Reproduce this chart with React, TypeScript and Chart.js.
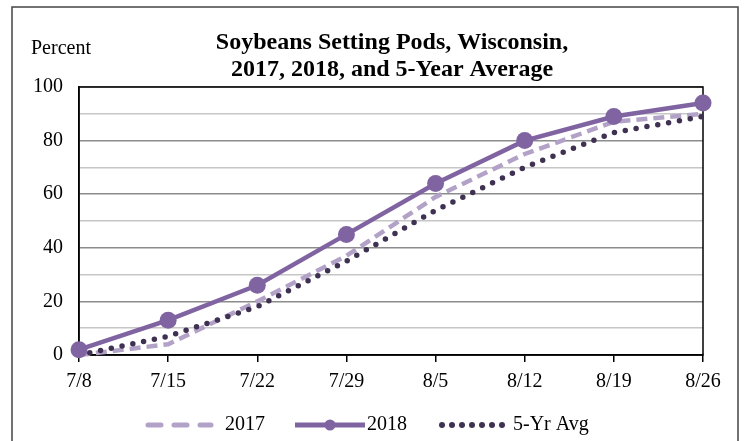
import React, { useEffect, useRef } from "react";
import { Chart, registerables } from "chart.js";

Chart.register(...registerables);

const categories = ["7/8", "7/15", "7/22", "7/29", "8/5", "8/12", "8/19", "8/26"];
const values2017 = [0, 4, 20, 37, 59, 75, 87, 90];
const values2018 = [2, 13, 26, 45, 64, 80, 89, 94];
const valuesAvg = [0, 7, 18, 35, 54, 70, 83, 89];
const yTickLabels = [0, 20, 40, 60, 80, 100];
const titleLines = ["Soybeans Setting Pods, Wisconsin,", "2017, 2018, and 5-Year Average"];
const yAxisLabel = "Percent";
const legendLabels = ["2017", "2018", "5-Yr Avg"];

const C2017 = "#B3A2C7";
const C2018 = "#8064A2";
const CAVG = "#3F3151";
const SERIF = "'Liberation Serif', 'Times New Roman', serif";

export default function App() {
  const ref = useRef<HTMLCanvasElement | null>(null);

  useEffect(() => {
    if (!ref.current) return;

    const framePlugin = {
      id: "frame",
      beforeDatasetsDraw(chart: any) {
        const { ctx, chartArea } = chart;
        ctx.save();
        ctx.strokeStyle = "#000";
        ctx.lineWidth = 1.5;
        ctx.strokeRect(chartArea.left, chartArea.top, chartArea.right - chartArea.left, chartArea.bottom - chartArea.top);
        ctx.restore();
      },
      afterDraw(chart: any) {
        const { ctx, chartArea } = chart;
        ctx.save();
        // outer border
        ctx.strokeStyle = "#444";
        ctx.lineWidth = 1.5;
        ctx.strokeRect(12, 7, 726, 460);
        // title
        ctx.fillStyle = "#000";
        ctx.font = `bold 24px ${SERIF}`;
        ctx.textAlign = "center";
        ctx.textBaseline = "middle";
        const cx = (chartArea.left + chartArea.right) / 2 + 1;
        ctx.fillText(titleLines[0], cx, 43);
        ctx.fillText(titleLines[1], cx, 70);
        // y label
        ctx.font = `20px ${SERIF}`;
        ctx.textAlign = "left";
        ctx.fillText(yAxisLabel, 31, 49);
        // legend
        const ly = 425;
        ctx.font = `20px ${SERIF}`;
        ctx.textBaseline = "middle";
        // 2017
        ctx.strokeStyle = C2017;
        ctx.lineWidth = 5;
        ctx.lineCap = "round";
        ctx.setLineDash([13, 13]);
        ctx.beginPath();
        ctx.moveTo(148, ly);
        ctx.lineTo(211, ly);
        ctx.stroke();
        ctx.setLineDash([]);
        ctx.fillStyle = "#000";
        ctx.fillText(legendLabels[0], 225, ly);
        // 2018
        ctx.strokeStyle = C2018;
        ctx.lineWidth = 5;
        ctx.lineCap = "butt";
        ctx.beginPath();
        ctx.moveTo(295, ly);
        ctx.lineTo(365, ly);
        ctx.stroke();
        ctx.fillStyle = C2018;
        ctx.beginPath();
        ctx.arc(330, ly, 5.5, 0, Math.PI * 2);
        ctx.fill();
        ctx.fillStyle = "#000";
        ctx.fillText(legendLabels[1], 367, ly);
        // avg
        ctx.fillStyle = CAVG;
        for (let i = 0; i < 7; i++) {
          ctx.beginPath();
          ctx.arc(442 + i * 10, ly, 3, 0, Math.PI * 2);
          ctx.fill();
        }
        ctx.fillStyle = "#000";
        ctx.fillText(legendLabels[2], 513, ly);
        ctx.restore();
      },
    };

    const chart = new Chart(ref.current, {
      type: "line",
      data: {
        labels: categories,
        datasets: [
          {
            label: legendLabels[0],
            data: values2017,
            borderColor: C2017,
            backgroundColor: C2017,
            borderWidth: 4.5,
            borderDash: [11, 6],
            pointRadius: 0,
            tension: 0,
            clip: false,
            order: 2,
          },
          {
            label: legendLabels[1],
            data: values2018,
            borderColor: C2018,
            backgroundColor: C2018,
            borderWidth: 4.5,
            pointRadius: 8.5,
            pointBackgroundColor: C2018,
            pointBorderWidth: 0,
            tension: 0,
            clip: false,
            order: 0,
          },
          {
            label: legendLabels[2],
            data: valuesAvg,
            borderColor: CAVG,
            backgroundColor: CAVG,
            borderWidth: 5.5,
            borderDash: [0, 11],
            borderCapStyle: "round",
            pointRadius: 0,
            tension: 0,
            clip: false,
            order: 1,
          },
        ],
      },
      options: {
        animation: false,
        responsive: false,
        maintainAspectRatio: false,
        layout: { padding: { left: 0, top: 87, right: 42, bottom: 46 } },
        plugins: {
          legend: { display: false },
          title: { display: false },
          tooltip: { enabled: false },
        },
        scales: {
          x: {
            type: "category",
            offset: false,
            grid: { drawOnChartArea: false, color: "#000", tickLength: 7, lineWidth: 1.5 },
            border: { color: "#000", width: 1.5 },
            ticks: {
              color: "#000",
              font: { family: SERIF, size: 20 },
              padding: 8,
              maxRotation: 0,
              autoSkip: false,
            },
            afterFit(scale: any) {
              scale.height = 40;
            },
          },
          y: {
            min: 0,
            max: 100,
            grid: {
              drawTicks: false,
              color: (c: any) => (c.tick && c.tick.value % 20 === 0 ? "#8c8c8c" : "#c6c6c6"),
              lineWidth: 1.5,
            },
            border: { color: "#000", width: 1.5 },
            ticks: {
              stepSize: 10,
              autoSkip: false,
              color: "#000",
              font: { family: SERIF, size: 20 },
              padding: 16,
              callback: (v: any) => (yTickLabels.includes(Number(v)) ? String(v) : ""),
            },
            afterFit(scale: any) {
              scale.width = 79;
            },
          },
        },
      },
      plugins: [framePlugin],
    });

    return () => chart.destroy();
  }, []);

  return (
    <div style={{ position: "fixed", left: 0, top: 0, width: 745, height: 441, background: "#fff" }}>
      <canvas ref={ref} width={745} height={441} style={{ width: 745, height: 441 }} />
    </div>
  );
}
